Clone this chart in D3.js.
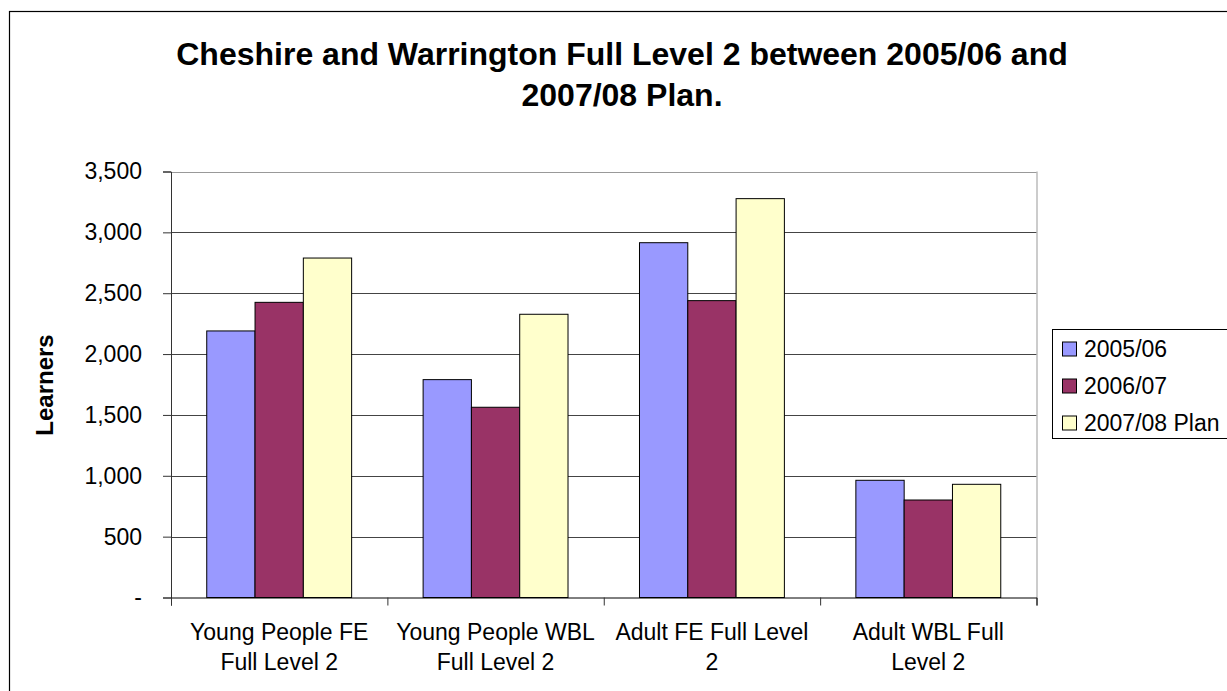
<!DOCTYPE html>
<html>
<head>
<meta charset="utf-8">
<script src="https://cdn.jsdelivr.net/npm/d3@7"></script>
<style>
  html, body { margin: 0; padding: 0; background: #fff; }
  svg { display: block; font-family: "Liberation Sans", Arial, sans-serif; }
</style>
</head>
<body>
<svg id="chart" width="1227" height="691"></svg>
<script>
const titleLines = ["Cheshire and Warrington Full Level 2 between 2005/06 and", "2007/08 Plan."];
const categories = ["Young People FE Full Level 2", "Young People WBL Full Level 2", "Adult FE Full Level 2", "Adult WBL Full Level 2"];
const categoryLines = [["Young People FE", "Full Level 2"], ["Young People WBL", "Full Level 2"], ["Adult FE Full Level", "2"], ["Adult WBL Full", "Level 2"]];
const seriesNames = ["2005/06", "2006/07", "2007/08 Plan"];
const values2005 = [2190, 1790, 2915, 963];
const values2006 = [2425, 1563, 2439, 801];
const values2007 = [2789, 2327, 3277, 930];
const series = [
  { name: seriesNames[0], values: values2005 },
  { name: seriesNames[1], values: values2006 },
  { name: seriesNames[2], values: values2007 }
];
const colors = ["#9999FF", "#993366", "#FFFFCC"];
const yTicks = [0, 500, 1000, 1500, 2000, 2500, 3000, 3500];
const yLabel = "Learners";

const svg = d3.select("#chart");
const plot = { left: 171, top: 171.5, right: 1036.5, bottom: 597.5 };

// outer chart border
svg.append("rect").attr("x", 9.5).attr("y", 11.5).attr("width", 1400).attr("height", 900)
  .attr("fill", "#fff").attr("stroke", "#000").attr("stroke-width", 1.2);

// title
svg.append("g").selectAll("text").data(titleLines).join("text")
  .attr("x", 622).attr("y", (d, i) => 65 + i * 41)
  .attr("text-anchor", "middle").attr("font-weight", "bold").attr("font-size", 32)
  .attr("fill", "#000").text(d => d);

const x0 = d3.scaleBand().domain(categories).range([plot.left, plot.right]).paddingInner(0).paddingOuter(0);
const x1 = d3.scaleBand().domain(seriesNames).range([0, x0.bandwidth()]).paddingInner(0).paddingOuter(0.74);
const y = d3.scaleLinear().domain([0, 3500]).range([plot.bottom, plot.top]);

// gridlines
svg.append("g").selectAll("line").data(yTicks.filter(t => t > 0)).join("line")
  .attr("x1", plot.left).attr("x2", plot.right)
  .attr("y1", d => Math.round(y(d)) + 0.5).attr("y2", d => Math.round(y(d)) + 0.5)
  .attr("stroke", d => d === 3500 ? "#999" : "#444").attr("stroke-width", 1);
// right border of plot
svg.append("line").attr("x1", plot.right + 0.5).attr("x2", plot.right + 0.5)
  .attr("y1", plot.top).attr("y2", plot.bottom).attr("stroke", "#999");

// bars
const groups = svg.append("g").selectAll("g").data(categories).join("g")
  .attr("transform", d => `translate(${x0(d)},0)`);
groups.selectAll("rect").data((c, ci) => series.map((s, si) => ({ s: s.name, v: s.values[ci], si })))
  .join("rect")
  .attr("x", d => x1(d.s)).attr("width", x1.bandwidth())
  .attr("y", d => y(d.v)).attr("height", d => y(0) - y(d.v))
  .attr("fill", d => colors[d.si]).attr("stroke", "#000").attr("stroke-width", 1);

// y axis
const yAxis = d3.axisLeft(y).tickValues(yTicks).tickSize(8).tickPadding(21)
  .tickFormat(d => d === 0 ? "-" : d3.format(",")(d));
const yg = svg.append("g").attr("transform", `translate(${plot.left},0)`).call(yAxis);
yg.select(".domain").attr("stroke", "#333");
yg.selectAll(".tick line").attr("stroke", "#333");
yg.selectAll(".tick text").attr("font-size", 23).attr("fill", "#000")
  .attr("font-family", "Liberation Sans, Arial, sans-serif");

// x axis
const xAxis = d3.axisBottom(d3.scaleLinear().domain([0, 4]).range([plot.left, plot.right]))
  .tickValues([0, 1, 2, 3, 4]).tickSize(8).tickFormat("");
const xg = svg.append("g").attr("transform", `translate(0,${plot.bottom})`).call(xAxis);
xg.select(".domain").attr("stroke", "#000");
xg.selectAll(".tick line").attr("stroke", "#333");

// category labels
const lab = svg.append("g").selectAll("text").data(categories).join("text")
  .attr("text-anchor", "middle").attr("font-size", 23).attr("fill", "#000");
lab.each(function(c, i) {
  d3.select(this).selectAll("tspan").data(categoryLines[i]).join("tspan")
    .attr("x", x0(c) + x0.bandwidth() / 2)
    .attr("y", (d, j) => 640 + j * 29.5)
    .text(d => d);
});

// y label
svg.append("text").attr("transform", `translate(53,385) rotate(-90)`)
  .attr("text-anchor", "middle").attr("font-weight", "bold").attr("font-size", 24)
  .attr("fill", "#000").text(yLabel);

// legend
const leg = svg.append("g");
leg.append("rect").attr("x", 1052.5).attr("y", 329.5).attr("width", 300).attr("height", 109)
  .attr("fill", "#fff").attr("stroke", "#000");
const items = leg.selectAll("g").data(series).join("g")
  .attr("transform", (d, i) => `translate(0,${349 + i * 37})`);
items.append("rect").attr("x", 1062.5).attr("y", -7).attr("width", 14).attr("height", 14)
  .attr("fill", (d, i) => colors[i]).attr("stroke", "#000");
items.append("text").attr("x", 1084).attr("y", 8).attr("font-size", 23).attr("fill", "#000")
  .text(d => d.name);
</script>
</body>
</html>
